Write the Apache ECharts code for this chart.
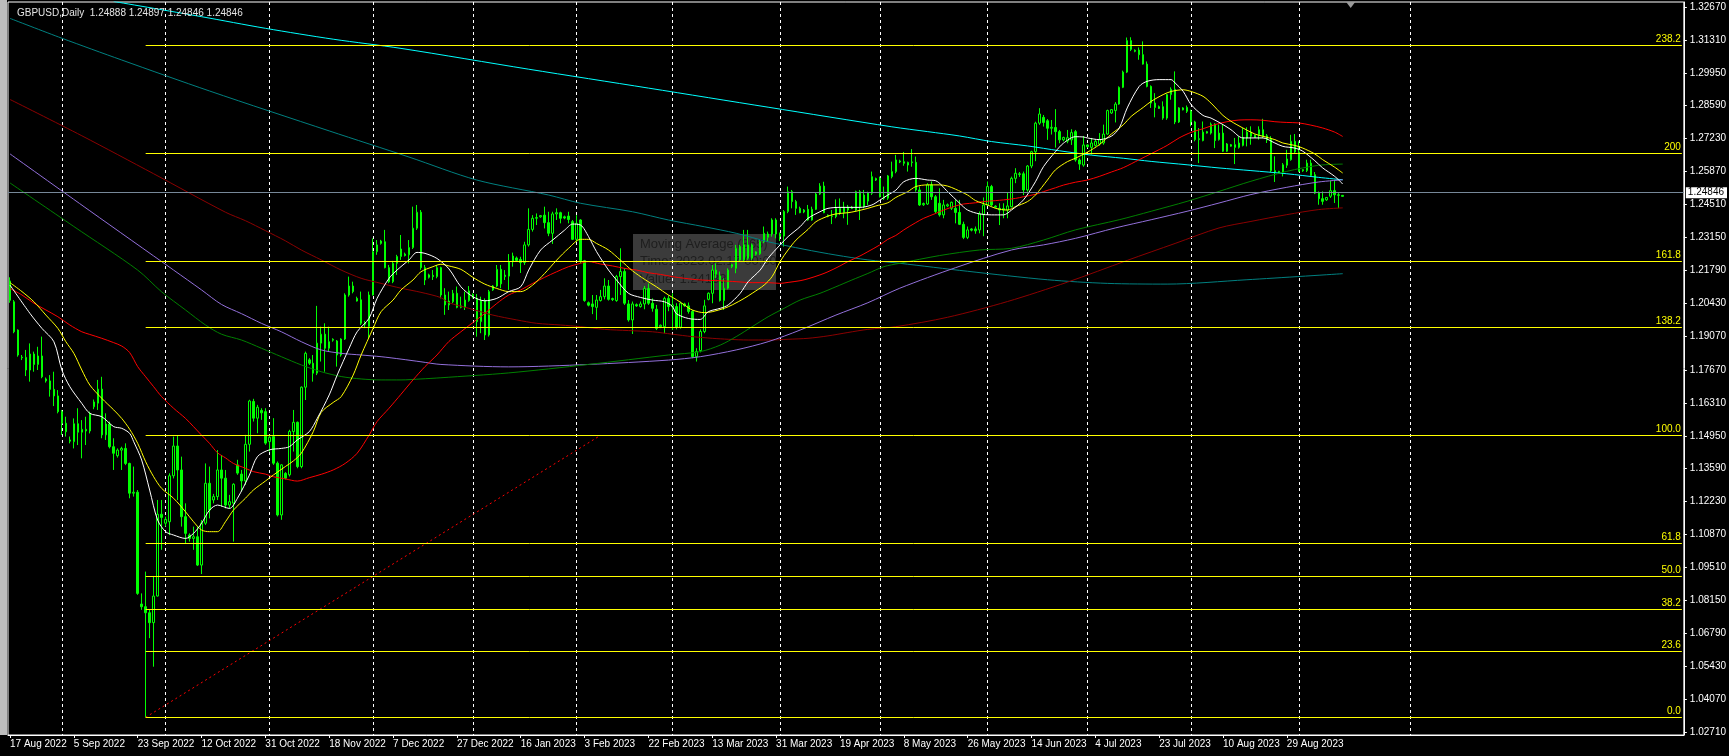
<!DOCTYPE html>
<html>
<head>
<meta charset="utf-8">
<title>GBPUSD,Daily</title>
<script src="https://cdn.jsdelivr.net/npm/echarts@6/dist/echarts.min.js"></script>
<style>
  html, body { margin: 0; padding: 0; background: #000; }
  #chart { width: 1729px; height: 756px; }
</style>
</head>
<body>
<div id="chart"></div>
<script>
// trading calendar of the broker (Sunday bars, a few closed days)
const firstDay = '2022-08-17';
const closedDays = ['2022-12-25', '2023-01-01', '2023-06-18'];
const slotCount = 420; // bars that fit across the chart, incl. the shift space

// daily bars: [open, high, low, close]
const ohlc = [
  [1.2135,1.2150,1.2045,1.2055],[1.2049,1.2056,1.1919,1.1925],[1.1932,1.1935,1.1822,1.1829],[1.1820,1.1829,1.1808,1.1818],
  [1.1819,1.1850,1.1742,1.1767],[1.1767,1.1877,1.1719,1.1833],[1.1833,1.1843,1.1760,1.1790],[1.1790,1.1863,1.1767,1.1825],
  [1.1825,1.1905,1.1733,1.1739],[1.1730,1.1736,1.1715,1.1722],[1.1722,1.1746,1.1657,1.1687],[1.1687,1.1760,1.1618,1.1660],
  [1.1660,1.1684,1.1588,1.1595],[1.1595,1.1602,1.1499,1.1547],[1.1547,1.1574,1.1492,1.1512],[1.1478,1.1492,1.1464,1.1473],
  [1.1471,1.1567,1.1443,1.1545],[1.1545,1.1609,1.1457,1.1510],[1.1510,1.1560,1.1402,1.1522],[1.1522,1.1574,1.1457,1.1515],
  [1.1515,1.1595,1.1505,1.1588],[1.1615,1.1645,1.1605,1.1635],[1.1630,1.1726,1.1602,1.1688],[1.1688,1.1739,1.1485,1.1499],
  [1.1499,1.1588,1.1478,1.1544],[1.1544,1.1554,1.1443,1.1450],[1.1450,1.1485,1.1354,1.1423],[1.1413,1.1443,1.1405,1.1436],
  [1.1436,1.1450,1.1354,1.1443],[1.1443,1.1464,1.1374,1.1381],[1.1381,1.1384,1.1237,1.1258],[1.1258,1.1368,1.1244,1.1262],
  [1.1262,1.1271,1.0838,1.0844],[1.0800,1.0844,1.0776,1.0789],[1.0789,1.0934,1.0332,1.0764],[1.0764,1.0776,1.0659,1.0723],
  [1.0723,1.0916,1.0541,1.0833],[1.0833,1.1230,1.0831,1.1171],[1.1171,1.1230,1.1024,1.1158],[1.1134,1.1161,1.1120,1.1150],
  [1.1140,1.1340,1.1085,1.1330],[1.1330,1.1492,1.1319,1.1453],[1.1453,1.1497,1.1230,1.1354],[1.1354,1.1409,1.1120,1.1161],
  [1.1161,1.1216,1.1051,1.1092],[1.1085,1.1092,1.1058,1.1071],[1.1071,1.1120,1.1024,1.1078],[1.1078,1.1120,1.0957,1.0961],
  [1.0961,1.1147,1.0924,1.1134],[1.1134,1.1381,1.1127,1.1299],[1.1299,1.1368,1.1154,1.1189],[1.1230,1.1255,1.1216,1.1244],
  [1.1244,1.1436,1.1230,1.1354],[1.1354,1.1416,1.1202,1.1320],[1.1320,1.1354,1.1195,1.1209],[1.1209,1.1251,1.1195,1.1223],
  [1.1217,1.1299,1.1058,1.1295],[1.1375,1.1396,1.1334,1.1341],[1.1337,1.1354,1.1265,1.1309],[1.1309,1.1499,1.1292,1.1460],
  [1.1460,1.1644,1.1430,1.1639],[1.1637,1.1648,1.1554,1.1568],[1.1568,1.1623,1.1506,1.1613],[1.1600,1.1609,1.1561,1.1590],
  [1.1595,1.1609,1.1458,1.1465],[1.1471,1.1499,1.1430,1.1489],[1.1492,1.1568,1.1375,1.1382],[1.1382,1.1389,1.1162,1.1168],
  [1.1168,1.1378,1.1148,1.1375],[1.1340,1.1345,1.1315,1.1320],[1.1334,1.1520,1.1327,1.1513],[1.1513,1.1602,1.1430,1.1551],
  [1.1551,1.1554,1.1361,1.1368],[1.1368,1.1699,1.1361,1.1696],[1.1696,1.1843,1.1643,1.1836],[1.1809,1.1816,1.1788,1.1795],
  [1.1795,1.1829,1.1719,1.1754],[1.1754,1.2032,1.1746,1.1878],[1.1878,1.1946,1.1802,1.1915],[1.1915,1.1960,1.1760,1.1857],
  [1.1857,1.1946,1.1843,1.1884],[1.1890,1.1898,1.1884,1.1894],[1.1887,1.1891,1.1781,1.1829],[1.1829,1.1898,1.1822,1.1895],
  [1.1895,1.2084,1.1891,1.2077],[1.2077,1.2153,1.2070,1.2114],[1.2114,1.2132,1.2084,1.2091],[1.2063,1.2070,1.2050,1.2052],
  [1.2057,1.2091,1.1953,1.1960],[1.1956,1.1970,1.1940,1.1963],[1.1947,1.2091,1.1898,1.2077],[1.2077,1.2311,1.2075,1.2256],
  [1.2256,1.2304,1.2243,1.2284],[1.2290,1.2305,1.2285,1.2300],[1.2297,1.2346,1.2187,1.2190],[1.2190,1.2201,1.2126,1.2132],
  [1.2132,1.2218,1.2126,1.2208],[1.2208,1.2243,1.2160,1.2236],[1.2236,1.2325,1.2222,1.2267],[1.2246,1.2252,1.2236,1.2240],
  [1.2243,1.2304,1.2208,1.2273],[1.2273,1.2442,1.2267,1.2353],[1.2353,1.2449,1.2346,1.2419],[1.2419,1.2428,1.2181,1.2190],
  [1.2190,1.2201,1.2118,1.2139],[1.2150,1.2165,1.2145,1.2160],[1.2158,1.2180,1.2139,1.2153],[1.2153,1.2201,1.2146,1.2190],
  [1.2190,1.2194,1.2063,1.2077],[1.2077,1.2105,1.1995,1.2036],[1.2036,1.2091,1.2015,1.2052],[1.2049,1.2098,1.2043,1.2084],
  [1.2084,1.2112,1.2022,1.2026],[1.2032,1.2070,1.2022,1.2026],[1.2026,1.2091,1.2015,1.2056],[1.2054,1.2114,1.2049,1.2094],
  [1.2080,1.2084,1.2063,1.2070],[1.2063,1.2081,1.1905,1.1967],[1.1967,1.2070,1.1919,1.2054],[1.2054,1.2063,1.1891,1.1912],
  [1.1912,1.2098,1.1905,1.2091],[1.2098,1.2118,1.2094,1.2114],[1.2114,1.2201,1.2109,1.2183],[1.2183,1.2201,1.2105,1.2123],
  [1.2159,1.2180,1.2139,1.2153],[1.2155,1.2246,1.2098,1.2215],[1.2215,1.2252,1.2194,1.2238],[1.2230,1.2236,1.2215,1.2220],
  [1.2224,1.2235,1.2168,1.2211],[1.2211,1.2297,1.2201,1.2284],[1.2284,1.2435,1.2277,1.2348],[1.2348,1.2407,1.2339,1.2394],
  [1.2394,1.2414,1.2366,1.2397],[1.2400,1.2407,1.2396,1.2405],[1.2407,1.2442,1.2352,1.2376],[1.2376,1.2421,1.2320,1.2332],
  [1.2332,1.2421,1.2288,1.2412],[1.2412,1.2435,1.2387,1.2417],[1.2417,1.2421,1.2373,1.2394],[1.2400,1.2405,1.2390,1.2395],
  [1.2403,1.2421,1.2373,1.2389],[1.2380,1.2387,1.2304,1.2307],[1.2307,1.2407,1.2297,1.2373],[1.2387,1.2390,1.2208,1.2219],
  [1.2219,1.2222,1.2049,1.2054],[1.2045,1.2050,1.2030,1.2035],[1.2040,1.2077,1.1998,1.2029],[1.2026,1.2077,1.1974,1.2056],
  [1.2054,1.2098,1.2050,1.2070],[1.2070,1.2146,1.2059,1.2114],[1.2114,1.2139,1.2054,1.2059],[1.2062,1.2066,1.2052,1.2058],
  [1.2054,1.2160,1.2049,1.2153],[1.2153,1.2270,1.2077,1.2174],[1.2174,1.2187,1.2036,1.2043],[1.2040,1.2056,1.1967,1.1974],
  [1.1974,1.2050,1.1916,1.2040],[1.2037,1.2042,1.2028,1.2032],[1.2029,1.2050,1.2025,1.2040],[1.2040,1.2114,1.2018,1.2104],
  [1.2104,1.2125,1.2036,1.2043],[1.2043,1.2063,1.2008,1.2022],[1.2018,1.2036,1.1932,1.1939],[1.1946,1.1955,1.1940,1.1952],
  [1.1946,1.2070,1.1919,1.2063],[1.2063,1.2075,1.2010,1.2029],[1.2029,1.2084,1.1932,1.2036],[1.2029,1.2043,1.1935,1.1944],
  [1.1944,1.2050,1.1938,1.2043],[1.2040,1.2045,1.2028,1.2033],[1.2032,1.2046,1.2000,1.2009],[1.2009,1.2015,1.1816,1.1822],
  [1.1822,1.1857,1.1802,1.1843],[1.1847,1.1935,1.1840,1.1926],[1.1926,1.2057,1.1919,1.2032],[1.2059,1.2088,1.2055,1.2084],
  [1.2084,1.2201,1.2043,1.2180],[1.2180,1.2208,1.2146,1.2163],[1.2156,1.2174,1.2050,1.2054],[1.2054,1.2146,1.2015,1.2105],
  [1.2105,1.2187,1.2100,1.2180],[1.2194,1.2206,1.2188,1.2203],[1.2187,1.2284,1.2167,1.2270],[1.2277,1.2284,1.2215,1.2222],
  [1.2222,1.2346,1.2215,1.2284],[1.2284,1.2346,1.2222,1.2229],[1.2229,1.2290,1.2222,1.2284],[1.2245,1.2258,1.2240,1.2255],
  [1.2247,1.2304,1.2243,1.2298],[1.2298,1.2360,1.2291,1.2332],[1.2315,1.2339,1.2298,1.2329],[1.2329,1.2394,1.2318,1.2387],
  [1.2387,1.2394,1.2311,1.2329],[1.2320,1.2335,1.2300,1.2330],[1.2320,1.2428,1.2277,1.2422],[1.2422,1.2525,1.2415,1.2504],
  [1.2504,1.2511,1.2435,1.2463],[1.2463,1.2470,1.2408,1.2435],[1.2435,1.2442,1.2415,1.2417],[1.2420,1.2432,1.2415,1.2428],
  [1.2431,1.2449,1.2384,1.2387],[1.2387,1.2442,1.2384,1.2431],[1.2431,1.2500,1.2428,1.2494],[1.2494,1.2539,1.2490,1.2527],
  [1.2527,1.2545,1.2415,1.2417],[1.2407,1.2410,1.2398,1.2402],[1.2402,1.2428,1.2370,1.2403],[1.2401,1.2472,1.2394,1.2435],
  [1.2435,1.2476,1.2408,1.2415],[1.2417,1.2462,1.2394,1.2440],[1.2440,1.2449,1.2367,1.2428],[1.2440,1.2445,1.2432,1.2435],
  [1.2428,1.2508,1.2421,1.2504],[1.2504,1.2511,1.2387,1.2442],[1.2442,1.2511,1.2435,1.2490],[1.2465,1.2504,1.2449,1.2500],
  [1.2497,1.2587,1.2490,1.2566],[1.2558,1.2562,1.2548,1.2552],[1.2559,1.2566,1.2480,1.2483],[1.2477,1.2525,1.2470,1.2483],
  [1.2477,1.2573,1.2470,1.2569],[1.2566,1.2628,1.2559,1.2587],[1.2587,1.2656,1.2580,1.2635],[1.2631,1.2636,1.2622,1.2627],
  [1.2621,1.2668,1.2611,1.2628],[1.2614,1.2628,1.2587,1.2625],[1.2624,1.2680,1.2607,1.2627],[1.2625,1.2649,1.2504,1.2511],
  [1.2511,1.2525,1.2445,1.2449],[1.2450,1.2459,1.2445,1.2455],[1.2453,1.2539,1.2449,1.2532],[1.2532,1.2546,1.2470,1.2483],
  [1.2483,1.2490,1.2415,1.2422],[1.2456,1.2518,1.2401,1.2408],[1.2408,1.2470,1.2394,1.2449],[1.2445,1.2455,1.2440,1.2450],
  [1.2435,1.2463,1.2428,1.2460],[1.2435,1.2470,1.2373,1.2418],[1.2418,1.2470,1.2366,1.2369],[1.2369,1.2380,1.2308,1.2315],
  [1.2315,1.2360,1.2308,1.2346],[1.2350,1.2353,1.2340,1.2345],[1.2350,1.2360,1.2330,1.2342],[1.2346,1.2422,1.2332,1.2412],
  [1.2408,1.2480,1.2320,1.2449],[1.2449,1.2546,1.2445,1.2525],[1.2525,1.2532,1.2442,1.2449],[1.2444,1.2448,1.2436,1.2440],
  [1.2435,1.2456,1.2366,1.2428],[1.2428,1.2456,1.2394,1.2434],[1.2428,1.2500,1.2394,1.2445],[1.2442,1.2566,1.2439,1.2559],
  [1.2559,1.2601,1.2539,1.2580],[1.2575,1.2585,1.2565,1.2578],[1.2578,1.2587,1.2490,1.2511],[1.2511,1.2614,1.2504,1.2610],
  [1.2610,1.2673,1.2601,1.2669],[1.2669,1.2793,1.2630,1.2787],[1.2787,1.2849,1.2780,1.2825],[1.2811,1.2821,1.2773,1.2790],
  [1.2797,1.2804,1.2718,1.2766],[1.2766,1.2800,1.2740,1.2770],[1.2769,1.2845,1.2686,1.2752],[1.2752,1.2759,1.2704,1.2718],
  [1.2718,1.2731,1.2712,1.2728],[1.2713,1.2759,1.2704,1.2727],[1.2718,1.2762,1.2697,1.2748],[1.2752,1.2759,1.2628,1.2635],
  [1.2635,1.2642,1.2594,1.2618],[1.2614,1.2734,1.2607,1.2697],[1.2697,1.2700,1.2686,1.2690],[1.2687,1.2726,1.2657,1.2705],
  [1.2695,1.2719,1.2690,1.2712],[1.2701,1.2746,1.2694,1.2719],[1.2705,1.2781,1.2698,1.2742],[1.2742,1.2843,1.2739,1.2839],
  [1.2829,1.2845,1.2825,1.2843],[1.2839,1.2874,1.2790,1.2866],[1.2866,1.2939,1.2863,1.2935],[1.2935,1.3004,1.2932,1.2998],
  [1.2998,1.3141,1.2994,1.3128],[1.3128,1.3142,1.3085,1.3092],[1.3088,1.3092,1.3080,1.3084],[1.3089,1.3100,1.3049,1.3070],
  [1.3070,1.3125,1.3029,1.3031],[1.3031,1.3042,1.2935,1.2939],[1.2939,1.2943,1.2850,1.2870],[1.2870,1.2911,1.2811,1.2852],
  [1.2855,1.2860,1.2846,1.2848],[1.2855,1.2877,1.2801,1.2808],[1.2808,1.2908,1.2801,1.2905],[1.2905,1.2935,1.2884,1.2927],
  [1.2927,1.3001,1.2783,1.2792],[1.2792,1.2853,1.2788,1.2850],[1.2850,1.2853,1.2840,1.2842],[1.2852,1.2860,1.2829,1.2836],
  [1.2836,1.2843,1.2774,1.2792],[1.2792,1.2797,1.2712,1.2719],[1.2719,1.2767,1.2622,1.2723],[1.2715,1.2794,1.2712,1.2750],
  [1.2752,1.2755,1.2744,1.2746],[1.2746,1.2790,1.2740,1.2783],[1.2783,1.2787,1.2684,1.2715],[1.2719,1.2781,1.2715,1.2746],
  [1.2746,1.2783,1.2668,1.2671],[1.2671,1.2705,1.2668,1.2701],[1.2698,1.2701,1.2690,1.2692],[1.2698,1.2726,1.2618,1.2687],
  [1.2687,1.2733,1.2682,1.2705],[1.2695,1.2767,1.2691,1.2728],[1.2726,1.2770,1.2691,1.2750],[1.2750,1.2774,1.2698,1.2733],
  [1.2737,1.2740,1.2726,1.2728],[1.2739,1.2774,1.2719,1.2760],[1.2760,1.2805,1.2725,1.2732],[1.2718,1.2742,1.2705,1.2735],
  [1.2723,1.2733,1.2585,1.2591],[1.2585,1.2650,1.2544,1.2591],[1.2588,1.2590,1.2578,1.2580],[1.2585,1.2622,1.2567,1.2615],
  [1.2613,1.2677,1.2602,1.2639],[1.2636,1.2739,1.2632,1.2712],[1.2712,1.2742,1.2660,1.2668],[1.2668,1.2712,1.2585,1.2588],
  [1.2590,1.2597,1.2586,1.2595],[1.2591,1.2636,1.2585,1.2622],[1.2622,1.2636,1.2567,1.2571],[1.2574,1.2585,1.2494,1.2498],
  [1.2498,1.2505,1.2450,1.2475],[1.2475,1.2505,1.2450,1.2464],[1.2470,1.2482,1.2466,1.2480],[1.2485,1.2549,1.2478,1.2508],
  [1.2508,1.2549,1.2457,1.2491],[1.2491,1.2498,1.2436,1.2489],[1.24888,1.24897,1.24846,1.24846]
];

// moving averages: [bar index, value]
const maWhite = [[0,1.2118],[5,1.2001],[8,1.1939],[11,1.1884],[13,1.1767],[15,1.1698],[18,1.1629],[20,1.1588],[23,1.1574],[26,1.1533],[28,1.1526],[30,1.1505],[31,1.1471],[33,1.1395],[35,1.1271],[37,1.1147],[39,1.1099],[41,1.1085],[44,1.1071],[46,1.1092],[48,1.1133],[50,1.1188],[52,1.1209],[55,1.1195],[57,1.1237],[60,1.1333],[62,1.1409],[65,1.1437],[68,1.1443],[70,1.1450],[72,1.1478],[75,1.1512],[77,1.1567],[80,1.1664],[82,1.1746],[85,1.1857],[87,1.1925],[90,1.1981],[92,1.2063],[95,1.2146],[97,1.2180],[100,1.2222],[102,1.2253],[104,1.2249],[107,1.2228],[110,1.2185],[113,1.2111],[116,1.2070],[119,1.2053],[122,1.2063],[125,1.2091],[128,1.2111],[130,1.2180],[133,1.2263],[136,1.2304],[139,1.2345],[141,1.2370],[143,1.2366],[145,1.2318],[147,1.2256],[150,1.2180],[152,1.2139],[155,1.2084],[158,1.2067],[161,1.2056],[164,1.2049],[166,1.2030],[167,1.2000],[170,1.1980],[173,1.1976],[175,1.2008],[178,1.2022],[180,1.2036],[183,1.2084],[185,1.2132],[188,1.2180],[190,1.2229],[193,1.2284],[195,1.2318],[198,1.2359],[200,1.2394],[203,1.2421],[205,1.2435],[208,1.2439],[211,1.2439],[213,1.2439],[216,1.2449],[218,1.2469],[220,1.2490],[222,1.2510],[224,1.2545],[227,1.2559],[230,1.2552],[232,1.2549],[235,1.2504],[238,1.2456],[240,1.2428],[243,1.2412],[246,1.2408],[249,1.2408],[251,1.2428],[254,1.2470],[257,1.2545],[259,1.2607],[262,1.2669],[264,1.2704],[267,1.2731],[269,1.2730],[270,1.2726],[273,1.2719],[276,1.2733],[278,1.2767],[280,1.2850],[283,1.2939],[285,1.2960],[288,1.2967],[291,1.2967],[292,1.2953],[294,1.2919],[296,1.2864],[299,1.2819],[301,1.2808],[304,1.2781],[306,1.2760],[309,1.2726],[312,1.2726],[314,1.2726],[317,1.2705],[319,1.2691],[322,1.2684],[324,1.2671],[327,1.2632],[329,1.2602],[332,1.2567],[334,1.2536]];
const maYellow = [[0,1.2128],[3,1.2091],[6,1.2049],[9,1.1994],[12,1.1939],[14,1.1884],[16,1.1836],[18,1.1767],[20,1.1705],[23,1.1650],[26,1.1602],[28,1.1567],[30,1.1522],[32,1.1464],[34,1.1388],[36,1.1326],[38,1.1278],[41,1.1237],[44,1.1181],[46,1.1140],[48,1.1106],[50,1.1099],[52,1.1099],[54,1.1140],[56,1.1188],[59,1.1237],[61,1.1271],[64,1.1308],[66,1.1333],[69,1.1368],[71,1.1391],[73,1.1423],[76,1.1512],[78,1.1592],[81,1.1633],[83,1.1657],[86,1.1746],[88,1.1829],[91,1.1939],[93,1.2008],[96,1.2056],[98,1.2098],[101,1.2139],[103,1.2173],[106,1.2194],[108,1.2204],[110,1.2197],[113,1.2183],[116,1.2150],[119,1.2122],[122,1.2104],[125,1.2091],[128,1.2091],[131,1.2118],[134,1.2166],[137,1.2221],[140,1.2270],[143,1.2307],[145,1.2307],[147,1.2290],[150,1.2263],[153,1.2221],[156,1.2177],[159,1.2142],[162,1.2111],[165,1.2077],[167,1.2058],[169,1.2036],[171,1.2015],[174,1.2004],[176,1.2008],[179,1.2022],[181,1.2036],[184,1.2063],[186,1.2084],[189,1.2118],[191,1.2153],[193,1.2215],[195,1.2263],[197,1.2304],[200,1.2348],[202,1.2380],[205,1.2403],[207,1.2412],[210,1.2417],[212,1.2423],[215,1.2435],[217,1.2445],[220,1.2458],[222,1.2480],[225,1.2504],[227,1.2525],[230,1.2532],[233,1.2532],[235,1.2527],[237,1.2514],[240,1.2490],[242,1.2467],[245,1.2449],[247,1.2435],[250,1.2428],[252,1.2442],[255,1.2463],[257,1.2490],[260,1.2552],[262,1.2594],[265,1.2628],[267,1.2642],[270,1.2667],[273,1.2698],[276,1.2742],[279,1.2780],[281,1.2815],[284,1.2852],[286,1.2877],[289,1.2905],[291,1.2918],[294,1.2925],[296,1.2918],[299,1.2898],[301,1.2870],[304,1.2819],[306,1.2795],[309,1.2767],[312,1.2742],[314,1.2733],[317,1.2719],[319,1.2705],[322,1.2695],[324,1.2684],[327,1.2660],[329,1.2636],[332,1.2605],[334,1.2581]];
const maRed = [[0,1.2104],[3,1.2077],[6,1.2043],[9,1.2015],[12,1.1987],[15,1.1953],[18,1.1925],[20,1.1914],[23,1.1898],[26,1.1880],[28,1.1866],[30,1.1839],[32,1.1781],[34,1.1739],[36,1.1698],[38,1.1657],[41,1.1609],[44,1.1567],[46,1.1533],[48,1.1498],[50,1.1464],[52,1.1425],[54,1.1404],[56,1.1381],[59,1.1361],[61,1.1347],[64,1.1337],[66,1.1326],[69,1.1317],[72,1.1308],[75,1.1322],[78,1.1336],[81,1.1354],[84,1.1381],[87,1.1423],[90,1.1498],[92,1.1554],[95,1.1609],[98,1.1667],[101,1.1726],[104,1.1781],[107,1.1829],[110,1.1885],[113,1.1925],[116,1.1963],[119,1.2001],[122,1.2042],[125,1.2077],[128,1.2098],[131,1.2125],[134,1.2150],[137,1.2173],[140,1.2194],[143,1.2208],[145,1.2215],[148,1.2205],[151,1.2197],[154,1.2187],[157,1.2180],[160,1.2169],[163,1.2162],[166,1.2153],[169,1.2146],[173,1.2139],[178,1.2136],[182,1.2132],[186,1.2128],[190,1.2128],[193,1.2125],[195,1.2129],[198,1.2136],[200,1.2144],[203,1.2160],[205,1.2173],[208,1.2197],[210,1.2215],[213,1.2238],[215,1.2256],[218,1.2284],[220,1.2307],[222,1.2323],[224,1.2346],[227,1.2376],[229,1.2394],[232,1.2414],[234,1.2428],[237,1.2445],[239,1.2453],[242,1.2458],[244,1.2463],[247,1.2467],[249,1.2470],[252,1.2476],[254,1.2483],[257,1.2493],[259,1.2504],[262,1.2520],[264,1.2531],[267,1.2543],[270,1.2552],[273,1.2567],[276,1.2585],[279,1.2603],[283,1.2636],[286,1.2661],[290,1.2695],[293,1.2726],[296,1.2749],[299,1.2764],[302,1.2781],[305,1.2793],[308,1.2800],[311,1.2801],[314,1.2799],[317,1.2793],[320,1.2790],[323,1.2788],[326,1.2779],[329,1.2767],[332,1.2750],[334,1.2732]];
const maMaroon = [[0,1.2885],[18,1.2735],[36,1.2578],[54,1.2419],[59,1.2384],[64,1.2343],[69,1.2301],[73,1.2263],[78,1.2222],[83,1.2180],[88,1.2146],[93,1.2125],[98,1.2105],[103,1.2088],[108,1.2066],[110,1.2045],[115,1.2022],[121,1.1994],[127,1.1974],[132,1.1960],[138,1.1953],[143,1.1946],[149,1.1935],[155,1.1930],[161,1.1925],[166,1.1915],[171,1.1905],[176,1.1898],[180,1.1894],[185,1.1891],[190,1.1891],[195,1.1894],[200,1.1898],[205,1.1908],[210,1.1922],[215,1.1935],[222,1.1946],[235,1.1985],[250,1.2050],[265,1.2130],[280,1.2220],[292,1.2290],[303,1.2354],[311,1.2381],[320,1.2409],[328,1.2430],[334,1.2437]];
const maGreen = [[0,1.2540],[16,1.2360],[32,1.2180],[38,1.2090],[44,1.2015],[49,1.1953],[53,1.1915],[58,1.1891],[63,1.1857],[68,1.1822],[73,1.1788],[78,1.1760],[83,1.1740],[88,1.1730],[93,1.1726],[98,1.1726],[103,1.1730],[108,1.1735],[125,1.1755],[145,1.1790],[165,1.1829],[173,1.1843],[178,1.1870],[182,1.1905],[186,1.1946],[190,1.1987],[194,1.2022],[198,1.2056],[203,1.2084],[207,1.2111],[211,1.2139],[215,1.2166],[219,1.2194],[223,1.2208],[233,1.2240],[243,1.2263],[251,1.2270],[259,1.2304],[267,1.2346],[278,1.2388],[286,1.2423],[295,1.2464],[303,1.2505],[311,1.2547],[320,1.2588],[328,1.2613],[334,1.2618]];
const maPurple = [[0,1.2660],[20,1.2425],[41,1.2180],[48,1.2098],[53,1.2038],[58,1.2000],[63,1.1960],[68,1.1925],[73,1.1884],[78,1.1850],[83,1.1836],[88,1.1829],[93,1.1822],[98,1.1812],[103,1.1801],[108,1.1790],[125,1.1780],[145,1.1790],[165,1.1808],[173,1.1822],[182,1.1850],[190,1.1884],[198,1.1932],[207,1.1994],[215,1.2045],[223,1.2105],[237,1.2190],[251,1.2263],[259,1.2284],[267,1.2311],[277,1.2354],[286,1.2388],[295,1.2423],[303,1.2457],[311,1.2492],[320,1.2522],[328,1.2544],[334,1.2553]];
const maTeal = [[0,1.3220],[13,1.3138],[28,1.3048],[50,1.2920],[80,1.2755],[100,1.2647],[117,1.2552],[135,1.2490],[143,1.2456],[156,1.2421],[165,1.2387],[174,1.2359],[182,1.2332],[190,1.2297],[199,1.2266],[207,1.2242],[215,1.2222],[223,1.2208],[240,1.2175],[260,1.2140],[275,1.2125],[290,1.2122],[310,1.2140],[334,1.2165]];
const maCyan = [[26,1.3290],[48,1.3227],[64,1.3179],[81,1.3134],[98,1.3096],[130,1.3010],[160,1.2932],[190,1.2853],[221,1.2772],[230,1.2752],[238,1.2734],[246,1.2711],[255,1.2693],[263,1.2673],[271,1.2655],[279,1.2642],[286,1.2629],[295,1.2615],[303,1.2602],[311,1.2591],[320,1.2578],[328,1.2563],[334,1.2553]];

// Fibonacci object: anchors [bar, price] and its levels
const fibAnchors = [[34, 1.03319], [148, 1.14971]];
const fibNames = ['0.0', '23.6', '38.2', '50.0', '61.8', '100.0', '138.2', '161.8', '200', '238.2'];
const fibValues = [1.03319, 1.06069, 1.07770, 1.09145, 1.10520, 1.14971, 1.19422, 1.22172, 1.26623, 1.31074];

// price scale labels as printed by the terminal
const priceTicks = [1.02710, 1.04070, 1.05430, 1.06790, 1.08150, 1.09510, 1.10870, 1.12230, 1.13590, 1.14950, 1.16310,
  1.17670, 1.19070, 1.20430, 1.21790, 1.23150, 1.24510, 1.25870, 1.27230, 1.28590, 1.29950, 1.31310, 1.32670];

// data window popup left on the chart
const popupLines = ['Moving Average (365)', 'Time: 2023.02.17 00:00', 'Value: 1.24133'];

const MON = ['Jan', 'Feb', 'Mar', 'Apr', 'May', 'Jun', 'Jul', 'Aug', 'Sep', 'Oct', 'Nov', 'Dec'];
const FONT = '"Liberation Sans", Arial, sans-serif';

// categories: trading days for the bars, then plain days in the shift area
const dates = [];
const months = [];
(function buildCalendar() {
  const p = firstDay.split('-').map(Number);
  let t = Date.UTC(p[0], p[1] - 1, p[2]);
  while (dates.length < slotCount) {
    const d = new Date(t);
    const iso = d.toISOString().slice(0, 10);
    const trading = dates.length < ohlc.length;
    if (!trading || (d.getUTCDay() !== 6 && closedDays.indexOf(iso) < 0)) {
      dates.push(d.getUTCDate() + ' ' + MON[d.getUTCMonth()] + ' ' + d.getUTCFullYear());
      months.push(d.getUTCFullYear() * 12 + d.getUTCMonth());
    }
    t += 86400000;
  }
})();

const last = ohlc[ohlc.length - 1];
const showLabel = (i) => i % 16 === 0 && i < ohlc.length;
const monthStart = (i) => i > 0 && i < ohlc.length + 31 && months[i] !== months[i - 1];

function maLine(name, color, points) {
  return {
    name: name,
    type: 'line',
    data: points,
    showSymbol: false,
    smooth: 0.3,
    silent: true,
    z: 3,
    lineStyle: { color: color, width: 1 },
    itemStyle: { color: color }
  };
}

const chart = echarts.init(document.getElementById('chart'));

chart.setOption({
  backgroundColor: '#000',
  animation: false,
  title: {
    text: 'GBPUSD,Daily  ' + last.map(v => v.toFixed(5)).join(' '),
    left: 12,
    top: 3,
    textStyle: { color: '#e4e4e4', fontSize: 10, fontWeight: 'normal', fontFamily: FONT }
  },
  grid: { left: 8, right: 40, top: 2, bottom: 21, show: true, borderColor: '#fff', borderWidth: 1 },
  xAxis: {
    type: 'category',
    data: dates,
    boundaryGap: true,
    axisLine: { lineStyle: { color: '#fff' } },
    axisTick: { show: true, interval: showLabel, alignWithLabel: true, length: 3, lineStyle: { color: '#fff' } },
    axisLabel: { interval: showLabel, color: '#fff', fontSize: 10, fontFamily: FONT, align: 'left', margin: 4 },
    splitLine: { show: true, interval: monthStart, alignWithLabel: true, lineStyle: { color: '#fff', width: 1, type: [3, 3] } }
  },
  yAxis: {
    type: 'value',
    position: 'right',
    min: 1.02588,
    max: 1.32877,
    axisLine: { show: true, lineStyle: { color: '#fff' } },
    axisTick: { show: true, length: 3, customValues: priceTicks, lineStyle: { color: '#fff' } },
    axisLabel: { color: '#fff', fontSize: 10, fontFamily: FONT, margin: 6, customValues: priceTicks, formatter: v => v.toFixed(5) },
    splitLine: { show: false }
  },
  graphic: [
    { type: 'rect', z: -1, silent: true, shape: { x: 0, y: 0, width: 7, height: 735 }, style: { fill: '#bdbdbd' } },
    { type: 'rect', z: -1, silent: true, shape: { x: 633, y: 234, width: 143, height: 56 }, style: { fill: '#3b3b3b' } },
    { type: 'text', z: -1, silent: true, x: 640, y: 244, style: { text: popupLines[0], fill: '#1e1e1e', font: '13px ' + FONT, verticalAlign: 'middle' } },
    { type: 'text', z: -1, silent: true, x: 640, y: 261, style: { text: popupLines[1], fill: '#1e1e1e', font: '13px ' + FONT, verticalAlign: 'middle' } },
    { type: 'text', z: -1, silent: true, x: 640, y: 279, style: { text: popupLines[2], fill: '#1e1e1e', font: '13px ' + FONT, verticalAlign: 'middle' } }
  ],
  series: [
    {
      name: 'GBPUSD',
      type: 'candlestick',
      data: ohlc.map(r => [r[0], r[3], r[2], r[1]]),
      barWidth: 2,
      z: 2,
      silent: true,
      itemStyle: { color: '#000', color0: '#00ff00', borderColor: '#00ff00', borderColor0: '#00ff00', borderWidth: 1 },
      markLine: {
        silent: true,
        symbol: 'none',
        lineStyle: { color: '#778899', type: 'solid', width: 1 },
        label: {
          show: true, position: 'end', distance: 2, formatter: last[3].toFixed(5),
          color: '#000', backgroundColor: '#fff', padding: [1, 3, 0, 2], fontSize: 10, fontFamily: FONT
        },
        data: [{ yAxis: last[3] }]
      },
      markPoint: {
        silent: true,
        symbol: 'triangle',
        symbolRotate: 180,
        symbolSize: [9, 6],
        symbolOffset: [0, 3],
        itemStyle: { color: '#9a9a9a' },
        label: { show: false },
        data: [{ coord: [dates[ohlc.length + 1], 1.32877] }]
      }
    },
    maLine('MA cyan', '#00ffff', maCyan),
    maLine('MA teal', '#008080', maTeal),
    maLine('MA maroon', '#8b0000', maMaroon),
    maLine('MA purple', '#9370db', maPurple),
    maLine('MA green', '#008000', maGreen),
    maLine('MA red', '#ff0000', maRed),
    maLine('MA yellow', '#ffff00', maYellow),
    maLine('MA white', '#ffffff', maWhite),
    {
      name: 'Fibo',
      type: 'line',
      data: fibAnchors,
      showSymbol: false,
      silent: true,
      z: 4,
      lineStyle: { color: '#ff0000', width: 1, type: [2, 3] },
      markLine: {
        silent: true,
        symbol: 'none',
        lineStyle: { color: '#ffff00', type: 'solid', width: 1 },
        label: {
          show: true, position: 'insideEndTop', distance: [1, 1], formatter: p => p.name,
          color: '#ffff00', fontSize: 10, fontFamily: FONT
        },
        data: fibValues.map((v, k) => [
          { name: fibNames[k], coord: [dates[fibAnchors[0][0]], v] },
          { coord: [dates[dates.length - 1], v] }
        ])
      }
    }
  ]
});
</script>
</body>
</html>
